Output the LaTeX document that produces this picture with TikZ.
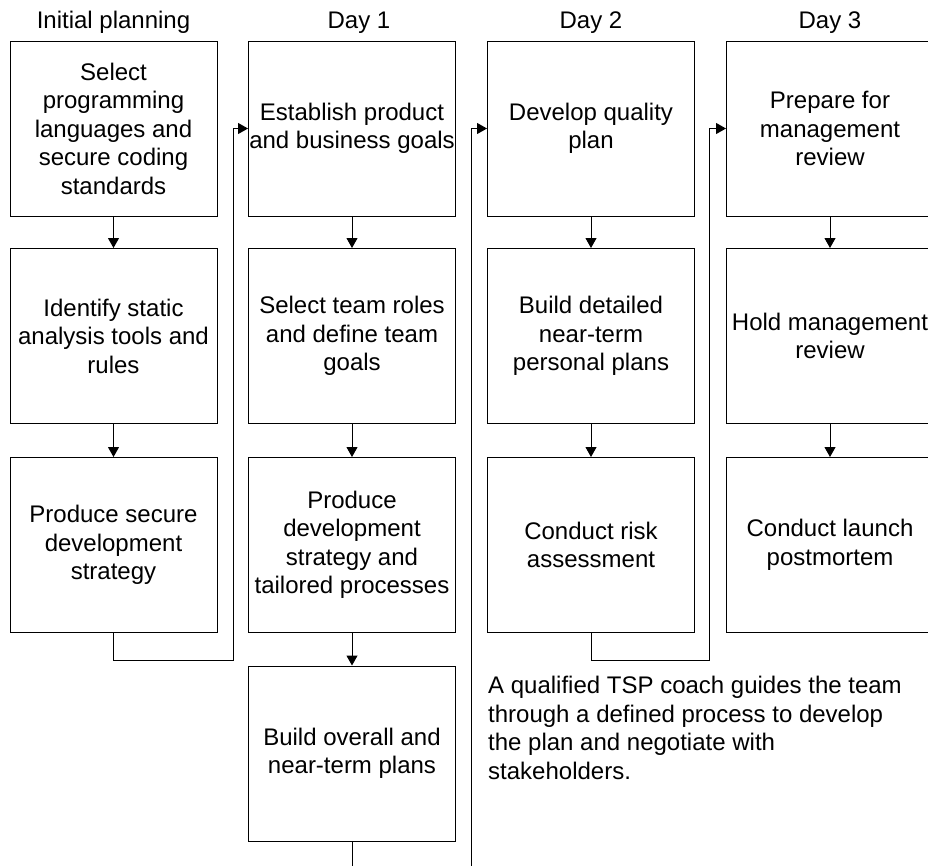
\documentclass[tikz,border=0pt]{standalone}
\usepackage{fontspec}
\setmainfont{Liberation Sans}
\usetikzlibrary{arrows.meta}

\tikzset{
  stagebox/.style={draw, line width=1pt, minimum width=207pt, minimum height=175pt, align=center, inner sep=0pt},
  flow/.style={line width=1pt, -{Triangle[width=11pt,length=10pt]}},
  dayhead/.style={anchor=base},
}

\begin{document}
\begin{tikzpicture}[x=1pt,y=-1pt,font=\fontsize{24}{28.5}\selectfont]
    \useasboundingbox (0,0) rectangle (928,865);
    \clip (0,0) rectangle (928,865);
    % column headings
    \node[dayhead] (hplan) at (113.5,28) {Initial planning};
    \node[dayhead] (hday1) at (359,28) {Day 1};
    \node[dayhead] (hday2) at (591,28) {Day 2};
    \node[dayhead] (hday3) at (830,28) {Day 3};
    % initial planning
    \node[stagebox] (p1) at (113.5,128.5) {Select\\programming\\languages and\\secure coding\\standards};
    \node[stagebox] (p2) at (113.5,336) {Identify static\\analysis tools and\\rules};
    \node[stagebox] (p3) at (113.5,545) {Produce secure\\development\\strategy};
    % day 1
    \node[stagebox] (d11) at (352,128.5) {Establish product\\and business goals};
    \node[stagebox] (d12) at (352,336) {Select team roles\\and define team\\goals};
    \node[stagebox] (d13) at (352,545) {Produce\\development\\strategy and\\tailored processes};
    \node[stagebox] (d14) at (352,753.5) {Build overall and\\near-term plans};
    % day 2
    \node[stagebox] (d21) at (591,128.5) {Develop quality\\plan};
    \node[stagebox] (d22) at (591,336) {Build detailed\\near-term\\personal plans};
    \node[stagebox] (d23) at (591,545) {Conduct risk\\assessment};
    % day 3
    \node[stagebox] (d31) at (830,128.5) {Prepare for\\management\\review};
    \node[stagebox] (d32) at (830,336) {Hold management\\review};
    \node[stagebox] (d33) at (830,545) {Conduct launch\\postmortem};
    % note
    \node[anchor=north west, align=left, inner sep=0pt] (note) at (488,676)
      {A qualified TSP coach guides the team\\through a defined process to develop\\the plan and negotiate with\\stakeholders.};
    % steps within a column
    \foreach \a/\b in {p1/p2, p2/p3, d11/d12, d12/d13, d13/d14, d21/d22, d22/d23, d31/d32, d32/d33}
      \draw[flow] (\a) -- (\b);
    % hand-over between columns
    \coordinate (turn1) at (233,660);
    \coordinate (turn2) at (471,890);
    \coordinate (turn3) at (709,660);
    \draw[flow] (p3.south) |- (turn1) |- (d11.west);
    \draw[flow] (d14.south) |- (turn2) |- (d21.west);
    \draw[flow] (d23.south) |- (turn3) |- (d31.west);
\end{tikzpicture}
\end{document}
